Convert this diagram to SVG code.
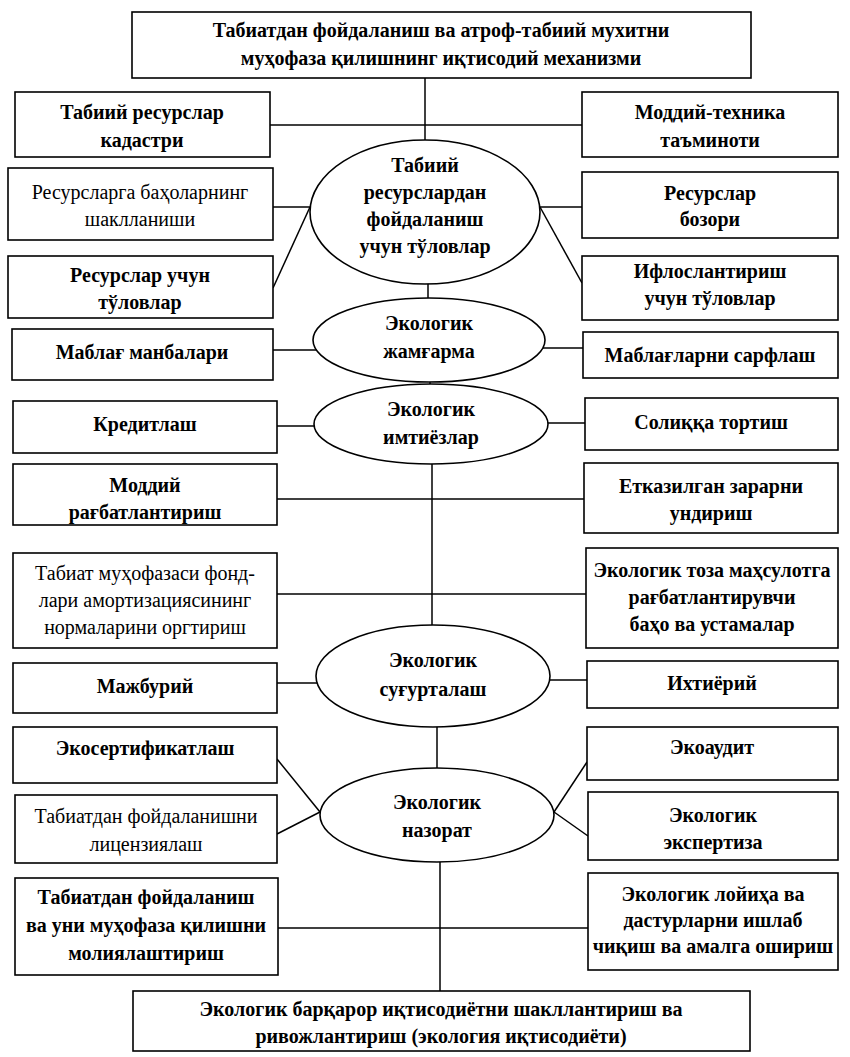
<svg xmlns="http://www.w3.org/2000/svg" width="850" height="1057" viewBox="0 0 850 1057">
<style>
.bx{fill:#fff;stroke:#000;stroke-width:1.6}
.el{fill:#fff;stroke:#000;stroke-width:1.6}
.ln{fill:none;stroke:#000;stroke-width:1.5}
text{font-family:"Liberation Serif","DejaVu Serif",serif;font-size:20px;text-anchor:middle;dominant-baseline:central;fill:#000}
.b{font-weight:bold}
.n{font-weight:normal}
</style>
<rect width="850" height="1057" fill="#fff"/>
<g id="connectors">
<line class="ln" x1="425" y1="78" x2="425" y2="150"/>
<line class="ln" x1="270" y1="125" x2="582" y2="125"/>
<line class="ln" x1="273" y1="207" x2="310" y2="207"/>
<line class="ln" x1="310" y1="207" x2="273" y2="288"/>
<line class="ln" x1="540" y1="207" x2="582" y2="207"/>
<line class="ln" x1="540" y1="207" x2="582" y2="283"/>
<line class="ln" x1="428" y1="270" x2="428" y2="310"/>
<line class="ln" x1="273" y1="350" x2="330" y2="350"/>
<line class="ln" x1="530" y1="348" x2="583" y2="348"/>
<line class="ln" x1="430" y1="370" x2="430" y2="395"/>
<line class="ln" x1="277" y1="426" x2="330" y2="426"/>
<line class="ln" x1="530" y1="423" x2="585" y2="423"/>
<line class="ln" x1="432" y1="455" x2="432" y2="640"/>
<line class="ln" x1="277" y1="499" x2="584" y2="499"/>
<line class="ln" x1="277" y1="594" x2="586" y2="594"/>
<line class="ln" x1="277" y1="683" x2="330" y2="683"/>
<line class="ln" x1="530" y1="680" x2="587" y2="680"/>
<line class="ln" x1="437" y1="715" x2="437" y2="780"/>
<line class="ln" x1="277" y1="759" x2="320" y2="812"/>
<line class="ln" x1="277" y1="834" x2="320" y2="812"/>
<line class="ln" x1="554" y1="812" x2="587" y2="762"/>
<line class="ln" x1="554" y1="812" x2="588" y2="836"/>
<line class="ln" x1="440" y1="850" x2="440" y2="991"/>
<line class="ln" x1="278" y1="928" x2="588" y2="928"/>
</g>
<g id="n_title"><rect class="bx" x="132" y="12" width="619" height="66"/><text class="b" x="441" y="30">Табиатдан фойдаланиш ва атроф-табиий мухитни</text><text class="b" x="441" y="58">муҳофаза қилишнинг иқтисодий механизми</text></g>
<g id="n_kadastr"><rect class="bx" x="15" y="92" width="255" height="65"/><text class="b" x="142" y="112">Табиий ресурслар</text><text class="b" x="142" y="140">кадастри</text></g>
<g id="n_moddiy_tex"><rect class="bx" x="582" y="92" width="256" height="65"/><text class="b" x="710" y="112">Моддий-техника</text><text class="b" x="710" y="140">таъминоти</text></g>
<g id="e_tulov"><ellipse class="el" cx="425" cy="212" rx="115" ry="72"/><text class="b" x="425" y="165">Табиий</text><text class="b" x="425" y="192">ресурслардан</text><text class="b" x="425" y="219">фойдаланиш</text><text class="b" x="425" y="246">учун тўловлар</text></g>
<g id="n_baho"><rect class="bx" x="8" y="168" width="265" height="72"/><text class="n" x="140" y="192">Ресурсларга баҳоларнинг</text><text class="n" x="140" y="219">шаклланиши</text></g>
<g id="n_bozor"><rect class="bx" x="582" y="172" width="256" height="66"/><text class="b" x="710" y="193">Ресурслар</text><text class="b" x="710" y="219">бозори</text></g>
<g id="n_res_tulov"><rect class="bx" x="8" y="256" width="265" height="62"/><text class="b" x="140" y="275">Ресурслар учун</text><text class="b" x="140" y="302">тўловлар</text></g>
<g id="n_iflos"><rect class="bx" x="582" y="256" width="256" height="64"/><text class="b" x="710" y="271">Ифлослантириш</text><text class="b" x="710" y="298">учун тўловлар</text></g>
<g id="e_jamgarma"><ellipse class="el" cx="429" cy="340" rx="116" ry="42"/><text class="b" x="429" y="323">Экологик</text><text class="b" x="429" y="351">жамғарма</text></g>
<g id="n_mablag_manba"><rect class="bx" x="12" y="329" width="261" height="51"/><text class="b" x="142" y="352">Маблағ манбалари</text></g>
<g id="n_mablag_sarf"><rect class="bx" x="583" y="332" width="255" height="46"/><text class="b" x="710" y="355">Маблағларни сарфлаш</text></g>
<g id="e_imtiyoz"><ellipse class="el" cx="431" cy="424" rx="117" ry="40"/><text class="b" x="431" y="409">Экологик</text><text class="b" x="431" y="437">имтиёзлар</text></g>
<g id="n_kredit"><rect class="bx" x="13" y="401" width="264" height="52"/><text class="b" x="145" y="424">Кредитлаш</text></g>
<g id="n_soliq"><rect class="bx" x="585" y="398" width="253" height="52"/><text class="b" x="711" y="422">Солиққа тортиш</text></g>
<g id="n_moddiy_rag"><rect class="bx" x="13" y="464" width="264" height="61"/><text class="b" x="145" y="485">Моддий</text><text class="b" x="145" y="512">рағбатлантириш</text></g>
<g id="n_etkaz"><rect class="bx" x="584" y="463" width="254" height="70"/><text class="b" x="711" y="486">Етказилган зарарни</text><text class="b" x="711" y="513">ундириш</text></g>
<g id="n_amort"><rect class="bx" x="13" y="553" width="264" height="95"/><text class="n" x="145" y="573">Табиат муҳофазаси фонд-</text><text class="n" x="145" y="600">лари амортизациясининг</text><text class="n" x="145" y="627">нормаларини оргтириш</text></g>
<g id="n_eko_toza"><rect class="bx" x="586" y="548" width="252" height="100"/><text class="b" x="712" y="570">Экологик тоза маҳсулотга</text><text class="b" x="712" y="597">рағбатлантирувчи</text><text class="b" x="712" y="624">баҳо ва устамалар</text></g>
<g id="e_sugurta"><ellipse class="el" cx="433" cy="676" rx="117" ry="51"/><text class="b" x="433" y="660">Экологик</text><text class="b" x="433" y="689">суғурталаш</text></g>
<g id="n_majburiy"><rect class="bx" x="13" y="663" width="264" height="50"/><text class="b" x="145" y="686">Мажбурий</text></g>
<g id="n_ixtiyoriy"><rect class="bx" x="587" y="661" width="251" height="47"/><text class="b" x="712" y="683">Ихтиёрий</text></g>
<g id="n_ekosert"><rect class="bx" x="13" y="727" width="264" height="56"/><text class="b" x="145" y="748">Экосертификатлаш</text></g>
<g id="n_ekoaudit"><rect class="bx" x="587" y="727" width="251" height="53"/><text class="b" x="712" y="747">Экоаудит</text></g>
<g id="e_nazorat"><ellipse class="el" cx="437" cy="815" rx="117" ry="47"/><text class="b" x="437" y="802">Экологик</text><text class="b" x="437" y="830">назорат</text></g>
<g id="n_litsenz"><rect class="bx" x="15" y="795" width="262" height="68"/><text class="n" x="146" y="816">Табиатдан фойдаланишни</text><text class="n" x="146" y="844">лицензиялаш</text></g>
<g id="n_ekspert"><rect class="bx" x="588" y="792" width="250" height="68"/><text class="b" x="713" y="815">Экологик</text><text class="b" x="713" y="842">экспертиза</text></g>
<g id="n_moliya"><rect class="bx" x="15" y="878" width="263" height="97"/><text class="b" x="146" y="897">Табиатдан фойдаланиш</text><text class="b" x="146" y="925">ва уни муҳофаза қилишни</text><text class="b" x="146" y="953">молиялаштириш</text></g>
<g id="n_loyiha"><rect class="bx" x="588" y="873" width="250" height="97"/><text class="b" x="713" y="894">Экологик лойиҳа ва</text><text class="b" x="713" y="920">дастурларни ишлаб</text><text class="b" x="713" y="946">чиқиш ва амалга ошириш</text></g>
<g id="n_bottom"><rect class="bx" x="133" y="991" width="617" height="60"/><text class="b" x="441" y="1009">Экологик барқарор иқтисодиётни шакллантириш ва</text><text class="b" x="441" y="1036">ривожлантириш (экология иқтисодиёти)</text></g>
</svg>
